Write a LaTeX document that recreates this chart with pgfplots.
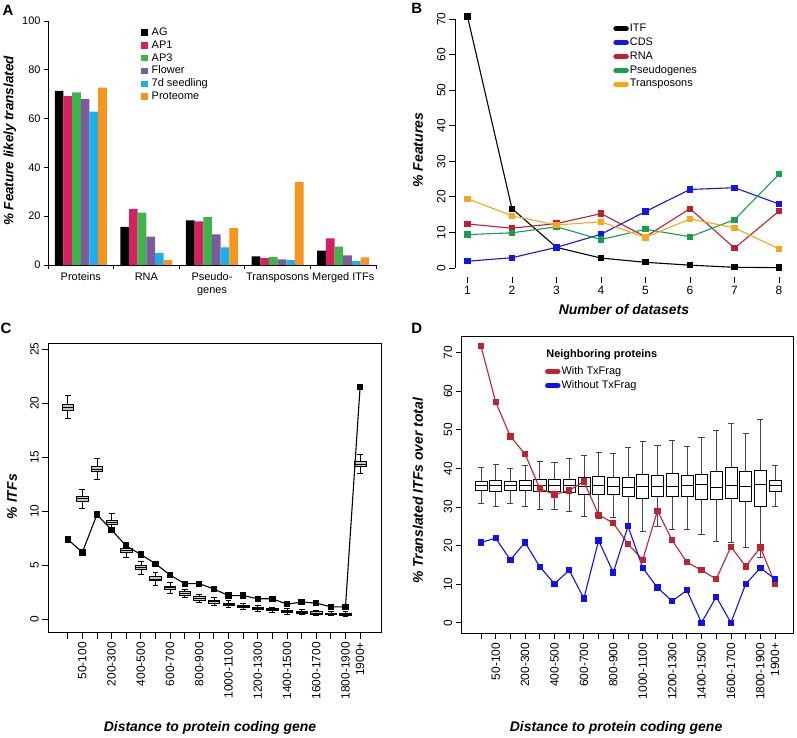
\documentclass[border=0pt]{standalone}
\usepackage{pgfplots}
\pgfplotsset{compat=1.18}
\usepgfplotslibrary{statistics}
\usepackage{fontspec}
\setmainfont{Liberation Sans}
\definecolor{cAP1}{HTML}{D7205F}
\definecolor{cAP3}{HTML}{3DB54A}
\definecolor{cFl}{HTML}{7A5C9C}
\definecolor{cSd}{HTML}{1AB0EE}
\definecolor{cPr}{HTML}{F7941D}
\definecolor{bCDS}{HTML}{1414EE}
\definecolor{bRNA}{HTML}{BE2032}
\definecolor{bPs}{HTML}{16A04E}
\definecolor{bTr}{HTML}{F9A61A}
\definecolor{dRed}{HTML}{C0222E}
\definecolor{dBlue}{HTML}{1010F0}
\newcommand{\tl}{\fontsize{12}{14}\selectfont}
\newcommand{\lf}{\fontsize{11}{13}\selectfont}
\pgfplotsset{
  every axis/.append style={/pgf/number format/assume math mode=true},
  bx/.style n args={6}{boxplot prepared={draw direction=y, draw position=#1, lower whisker=#2, lower quartile=#3, median=#4, upper quartile=#5, upper whisker=#6}},
  pill legend/.style={legend image code/.code={\draw[##1, mark=none, line width=5bp, line cap=round] (2.5bp,0bp) -- (13bp,0bp);}},
  cbox/.style={forget plot, draw=black, fill=gray!45, line width=0.6bp, solid},
  dbox/.style={forget plot, draw=black, fill=white, line width=0.6bp, solid},
}
\begin{document}
\begin{tikzpicture}
\path[use as bounding box] (0bp,0bp) rectangle (797bp,738bp);
% ---------------- Panel A
\begin{axis}[
 at={(48bp,473bp)}, anchor=south west, scale only axis,
 width=328bp, height=244bp,
 ybar=0pt, bar width=8.67bp,
 xmin=-0.5, xmax=4.5, ymin=0, ymax=100,
 axis x line*=bottom, axis y line*=left,
 axis line style={-, line width=0.9bp},
 tick align=outside,
 xtick={0,1,2,3,4},
 xticklabels={Proteins,RNA,{Pseudo-\\genes},Transposons,Merged ITFs},
 xticklabel style={align=center, font=\lf},
 major x tick style={draw=none},
 minor xtick={-0.5,0.5,1.5,2.5,3.5,4.5},
 minor x tick style={black, line width=0.9bp},
 minor tick length=4bp,
 ytick={0,20,...,100},
 y tick style={black, line width=0.9bp},
 major tick length=4bp,
 yticklabel style={font=\lf},
 ylabel={\bfseries\itshape\% Feature likely translated},
 ylabel style={font=\fontsize{13.5}{15}\selectfont, at={(axis description cs:-0.116,0.508)}, anchor=center},
 area legend, legend cell align=left,
 legend image code/.code={\fill[#1] (0bp,-3bp) rectangle (6.5bp,3.5bp);},
 legend style={at={(axis description cs:0.283,0.978)}, anchor=north west, draw=none, fill=none, font=\lf, inner sep=0pt, row sep=0.3bp, nodes={inner ysep=1bp, inner xsep=2.2bp, text height=8bp, text depth=2.5bp}},
]
\addplot[fill=black, draw=none] coordinates {(0,71.4) (1,15.6) (2,18.3) (3,3.5) (4,5.9)};
\addlegendentry{\hspace{2bp}AG}
\addplot[fill=cAP1, draw=none] coordinates {(0,69.2) (1,22.9) (2,17.9) (3,2.8) (4,10.9)};
\addlegendentry{\hspace{2bp}AP1}
\addplot[fill=cAP3, draw=none] coordinates {(0,70.7) (1,21.5) (2,19.6) (3,3.2) (4,7.5)};
\addlegendentry{\hspace{2bp}AP3}
\addplot[fill=cFl, draw=none] coordinates {(0,68.1) (1,11.6) (2,12.5) (3,2.3) (4,3.9)};
\addlegendentry{\hspace{2bp}Flower}
\addplot[fill=cSd, draw=none] coordinates {(0,62.9) (1,4.9) (2,7.2) (3,2.0) (4,1.6)};
\addlegendentry{\hspace{2bp}7d seedling}
\addplot[fill=cPr, draw=none] coordinates {(0,72.7) (1,2.0) (2,15.1) (3,34.0) (4,3.1)};
\addlegendentry{\hspace{2bp}Proteome}
\end{axis}
% ---------------- Panel B
\begin{axis}[
 at={(455bp,461bp)}, anchor=south west, scale only axis,
 width=336.5bp, height=267.7bp,
 xmin=0.72, xmax=8.28, ymin=-2.53, ymax=72.8,
 axis x line*=bottom, axis y line*=left,
 axis line style={draw=none},
 tick align=outside, major tick length=6bp,
 tick style={black, line width=0.9bp},
 xtick={1,...,8}, ytick={0,10,...,70},
 ticklabel style={font=\tl},
 yticklabel style={rotate=90, anchor=south},
 xlabel={\bfseries\itshape Number of datasets},
 xlabel style={font=\fontsize{14}{16}\selectfont, at={(axis description cs:0.502,-0.12)}, anchor=center},
 ylabel={\bfseries\itshape\% Features},
 ylabel style={font=\fontsize{14}{16}\selectfont, at={(axis description cs:-0.11,0.474)}, anchor=center},
 pill legend, legend cell align=left,
 legend style={at={(axis description cs:0.47,0.952)}, anchor=north west, draw=none, fill=none, font=\lf, inner sep=0pt, row sep=1.4bp, nodes={inner sep=1bp, text height=8bp, text depth=2.5bp}},
 every axis plot/.append style={line width=1.1bp, mark=square*, mark size=2.6bp},
]
\addplot[black] coordinates {(1,70.8)(2,16.7)(3,5.8)(4,2.8)(5,1.6)(6,0.8)(7,0.2)(8,0.1)};
\addlegendentry{ITF}
\addplot[bCDS] coordinates {(1,1.9)(2,2.9)(3,5.8)(4,9.5)(5,15.9)(6,22.1)(7,22.6)(8,18.0)};
\addlegendentry{CDS}
\addplot[bRNA] coordinates {(1,12.4)(2,11.2)(3,12.5)(4,15.3)(5,8.8)(6,16.7)(7,5.6)(8,16.0)};
\addlegendentry{RNA}
\addplot[bPs] coordinates {(1,9.4)(2,9.9)(3,11.6)(4,8.0)(5,10.9)(6,8.8)(7,13.6)(8,26.4)};
\addlegendentry{Pseudogenes}
\addplot[bTr] coordinates {(1,19.5)(2,14.7)(3,12.1)(4,13.0)(5,8.6)(6,13.8)(7,11.3)(8,5.4)};
\addlegendentry{Transposons}
\draw[line width=0.9bp] (axis cs:1,-2.53) -- (axis cs:8,-2.53);
\draw[line width=0.9bp] (axis cs:0.72,0) -- (axis cs:0.72,70);
\end{axis}
% ---------------- Panel C
\begin{axis}[
 at={(48.3bp,105.3bp)}, anchor=south west, scale only axis,
 width=332.7bp, height=289.4bp,
 xmin=-1.33, xmax=21.43, ymin=-1.24, ymax=25.56,
 axis line style={line width=0.9bp},
 tick align=outside, major tick length=6bp,
 tick style={black, line width=0.9bp},
 xtick pos=left, ytick pos=left,
 xtick={0,...,20}, ytick={0,5,...,25},
 xticklabels={,50-100,,200-300,,400-500,,600-700,,800-900,,1000-1100,,1200-1300,,1400-1500,,1600-1700,,1800-1900,1900+},
 ticklabel style={font=\tl},
 xticklabel style={rotate=90, anchor=east},
 yticklabel style={rotate=90, anchor=south},
 xlabel={\bfseries\itshape Distance to protein coding gene},
 xlabel style={font=\fontsize{14}{16}\selectfont, at={(axis description cs:0.486,-0.329)}, anchor=center},
 ylabel={\bfseries\itshape\% ITFs},
 ylabel style={font=\fontsize{14}{16}\selectfont, at={(axis description cs:-0.109,0.47)}, anchor=center},
 boxplot/draw direction=y,
 boxplot/box extend=0.78, boxplot/whisker extend=0.4,
]
\addplot[cbox, bx={0}{18.6}{19.35}{19.63}{19.9}{20.7}] coordinates {};
\addplot[cbox, bx={1}{10.3}{10.95}{11.2}{11.4}{12.0}] coordinates {};
\addplot[cbox, bx={2}{13.0}{13.7}{13.9}{14.2}{14.9}] coordinates {};
\addplot[cbox, bx={3}{8.4}{8.8}{9.0}{9.2}{9.8}] coordinates {};
\addplot[cbox, bx={4}{5.75}{6.2}{6.4}{6.6}{7.1}] coordinates {};
\addplot[cbox, bx={5}{4.2}{4.6}{4.8}{5.0}{5.4}] coordinates {};
\addplot[cbox, bx={6}{3.15}{3.6}{3.75}{3.95}{4.35}] coordinates {};
\addplot[cbox, bx={7}{2.4}{2.75}{2.95}{3.1}{3.4}] coordinates {};
\addplot[cbox, bx={8}{2.0}{2.25}{2.4}{2.55}{2.8}] coordinates {};
\addplot[cbox, bx={9}{1.6}{1.8}{1.95}{2.1}{2.35}] coordinates {};
\addplot[cbox, bx={10}{1.3}{1.5}{1.65}{1.75}{2.0}] coordinates {};
\addplot[cbox, bx={11}{1.1}{1.3}{1.4}{1.5}{1.75}] coordinates {};
\addplot[cbox, bx={12}{0.9}{1.1}{1.2}{1.3}{1.5}] coordinates {};
\addplot[cbox, bx={13}{0.75}{0.9}{1.0}{1.1}{1.3}] coordinates {};
\addplot[cbox, bx={14}{0.65}{0.8}{0.9}{1.0}{1.15}] coordinates {};
\addplot[cbox, bx={15}{0.5}{0.65}{0.75}{0.85}{1.0}] coordinates {};
\addplot[cbox, bx={16}{0.45}{0.55}{0.65}{0.75}{0.9}] coordinates {};
\addplot[cbox, bx={17}{0.4}{0.5}{0.6}{0.7}{0.85}] coordinates {};
\addplot[cbox, bx={18}{0.35}{0.45}{0.5}{0.6}{0.75}] coordinates {};
\addplot[cbox, bx={19}{0.3}{0.4}{0.45}{0.55}{0.7}] coordinates {};
\addplot[cbox, bx={20}{13.5}{14.15}{14.4}{14.65}{15.3}] coordinates {};
\addplot[black, line width=1.1bp, mark=square*, mark size=2.6bp] coordinates {(0,7.4)(1,6.2)(2,9.7)(3,8.27)(4,6.8)(5,6.0)(6,5.15)(7,4.1)(8,3.3)(9,3.3)(10,2.8)(11,2.2)(12,2.2)(13,1.9)(14,1.9)(15,1.4)(16,1.6)(17,1.5)(18,1.15)(19,1.15)(20,21.5)};
\end{axis}
% ---------------- Panel D
\begin{axis}[
 at={(461.7bp,104.7bp)}, anchor=south west, scale only axis,
 width=331.3bp, height=296.6bp,
 xmin=-1.31, xmax=21.22, ymin=-2.75, ymax=74.15,
 axis line style={line width=0.9bp},
 tick align=outside, major tick length=6bp,
 tick style={black, line width=0.9bp},
 xtick pos=left, ytick pos=left,
 xtick={0,...,20}, ytick={0,10,...,70},
 xticklabels={,50-100,,200-300,,400-500,,600-700,,800-900,,1000-1100,,1200-1300,,1400-1500,,1600-1700,,1800-1900,1900+},
 ticklabel style={font=\tl},
 xticklabel style={rotate=90, anchor=east},
 yticklabel style={rotate=90, anchor=south},
 xlabel={\bfseries\itshape Distance to protein coding gene},
 xlabel style={font=\fontsize{14}{16}\selectfont, at={(axis description cs:0.466,-0.32)}, anchor=center},
 ylabel={\bfseries\itshape\% Translated ITFs over total},
 ylabel style={font=\fontsize{14}{16}\selectfont, at={(axis description cs:-0.132,0.48)}, anchor=center},
 boxplot/draw direction=y,
 boxplot/box extend=0.82, boxplot/whisker extend=0.42,
 boxplot/every whisker/.style={draw=gray!55!black},
 pill legend, legend cell align=left,
 legend style={at={(axis description cs:0.251,0.905)}, anchor=north west, draw=none, fill=none, font=\lf, inner sep=0pt, row sep=1.8bp, nodes={inner sep=1bp, text height=8bp, text depth=2.5bp}},
]
\addplot[dbox, bx={0}{30.9}{34.3}{35.5}{36.6}{40.2}] coordinates {};
\addplot[dbox, bx={1}{30.2}{34.1}{35.6}{36.9}{41.0}] coordinates {};
\addplot[dbox, bx={2}{31.0}{34.4}{35.6}{36.6}{40.0}] coordinates {};
\addplot[dbox, bx={3}{30.2}{34.2}{35.6}{36.8}{40.9}] coordinates {};
\addplot[dbox, bx={4}{29.3}{34.1}{35.6}{37.1}{41.8}] coordinates {};
\addplot[dbox, bx={5}{29.4}{34.1}{35.6}{37.1}{41.7}] coordinates {};
\addplot[dbox, bx={6}{28.9}{33.9}{35.6}{37.3}{42.5}] coordinates {};
\addplot[dbox, bx={7}{27.7}{33.4}{35.4}{37.8}{43.4}] coordinates {};
\addplot[dbox, bx={8}{27.0}{33.4}{35.6}{38.0}{44.3}] coordinates {};
\addplot[dbox, bx={9}{27.2}{33.4}{35.4}{37.8}{44.0}] coordinates {};
\addplot[dbox, bx={10}{25.8}{32.7}{35.2}{37.8}{45.5}] coordinates {};
\addplot[dbox, bx={11}{23.8}{32.2}{35.3}{38.5}{47.0}] coordinates {};
\addplot[dbox, bx={12}{25.0}{32.8}{35.3}{38.2}{46.0}] coordinates {};
\addplot[dbox, bx={13}{24.2}{32.8}{35.4}{38.7}{47.4}] coordinates {};
\addplot[dbox, bx={14}{24.2}{32.8}{35.5}{38.3}{45.8}] coordinates {};
\addplot[dbox, bx={15}{22.8}{31.9}{36.0}{38.6}{48.0}] coordinates {};
\addplot[dbox, bx={16}{21.2}{31.9}{35.1}{39.3}{50.0}] coordinates {};
\addplot[dbox, bx={17}{20.9}{32.2}{35.6}{40.3}{51.7}] coordinates {};
\addplot[dbox, bx={18}{19.5}{31.4}{35.3}{39.2}{49.0}] coordinates {};
\addplot[dbox, bx={19}{16.9}{30.2}{35.8}{39.6}{52.7}] coordinates {};
\addplot[dbox, bx={20}{30.2}{34.1}{35.5}{36.8}{40.9}] coordinates {};
\addplot[dRed, line width=1.1bp, mark=square*, mark size=2.6bp] coordinates {(0,71.7)(1,57.2)(2,48.3)(3,43.7)(4,34.8)(5,33.2)(6,34.3)(7,36.6)(8,28.0)(9,25.8)(10,20.4)(11,16.3)(12,29.0)(13,21.4)(14,15.7)(15,13.6)(16,11.3)(17,19.7)(18,14.6)(19,19.5)(20,10.2)};
\addlegendentry{With TxFrag}
\addplot[dBlue, line width=1.1bp, mark=square*, mark size=2.6bp] coordinates {(0,20.8)(1,21.9)(2,16.3)(3,20.8)(4,14.5)(5,10.1)(6,13.6)(7,6.3)(8,21.3)(9,13.0)(10,25.0)(11,14.2)(12,9.1)(13,5.6)(14,8.4)(15,0)(16,6.7)(17,0)(18,10.0)(19,14.2)(20,11.3)};
\addlegendentry{Without TxFrag}
\node[anchor=west, font=\lf\bfseries] at (axis description cs:0.245,0.94) {Neighboring proteins};
\end{axis}
% panel letters
\node[font=\fontsize{15}{17}\selectfont\bfseries] at (8bp,728bp) {A};
\node[font=\fontsize{15}{17}\selectfont\bfseries] at (416.7bp,729.7bp) {B};
\node[font=\fontsize{15}{17}\selectfont\bfseries] at (6bp,409.5bp) {C};
\node[font=\fontsize{15}{17}\selectfont\bfseries] at (416.7bp,409.7bp) {D};
\end{tikzpicture}
\end{document}
